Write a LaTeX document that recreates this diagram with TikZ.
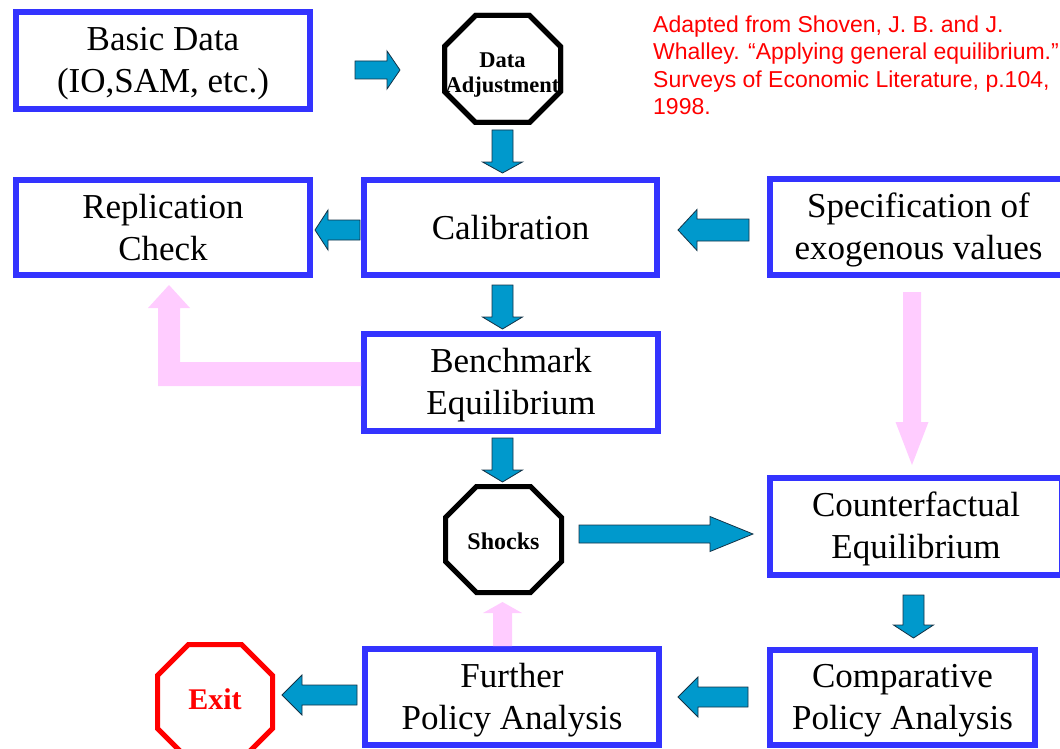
\documentclass[tikz,border=0pt]{standalone}
\usepackage{fontspec}
\setmainfont{Liberation Serif}
\newfontfamily\redsans{Liberation Sans}
\usetikzlibrary{calc}
\definecolor{boxblue}{RGB}{51,51,255}
\definecolor{tealfill}{RGB}{0,153,204}
\definecolor{tealedge}{RGB}{20,50,70}
\definecolor{pinkfill}{RGB}{255,204,255}
\definecolor{exitred}{RGB}{255,0,0}
\newcommand\ls{\rule[-6pt]{0pt}{36pt}}
% block arrow: start, tip, shaft half width, head half width, head length, style
\newcommand\blockarrow[6]{%
  \coordinate (ba-s) at (#1);
  \coordinate (ba-e) at (#2);
  \coordinate (ba-h) at ($(ba-e)!#5pt!(ba-s)$);
  \path[#6] ($(ba-s)!#3pt!90:(ba-e)$) -- ($(ba-h)!#3pt!-90:(ba-s)$) -- ($(ba-h)!#4pt!-90:(ba-s)$) -- (ba-e) -- ($(ba-h)!#4pt!90:(ba-s)$) -- ($(ba-h)!#3pt!90:(ba-s)$) -- ($(ba-s)!#3pt!-90:(ba-e)$) -- cycle;}
% octagon around a node: node, w, h, cut, style
\newcommand\octagonpath[5]{%
  \draw[#5] ($(#1)+({-#2/2+#4},{-#3/2})$) -- ($(#1)+({#2/2-#4},{-#3/2})$) -- ($(#1)+({#2/2},{-#3/2+#4})$) -- ($(#1)+({#2/2},{#3/2-#4})$) -- ($(#1)+({#2/2-#4},{#3/2})$) -- ($(#1)+({-#2/2+#4},{#3/2})$) -- ($(#1)+({-#2/2},{#3/2-#4})$) -- ($(#1)+({-#2/2},{-#3/2+#4})$) -- cycle;}
\begin{document}
\begin{tikzpicture}[x=1pt,y=-1pt,
  box/.style={draw=boxblue, line width=6pt, fill=white, inner sep=0pt, outer sep=3pt, align=center, font=\fontsize{35}{42}\selectfont},
  octnode/.style={inner sep=0pt, outer sep=2.5pt},
  octline/.style={draw=black, fill=white, line width=5pt},
  exitline/.style={draw=exitred, fill=white, line width=5pt},
  tealarrow/.style={fill=tealfill, draw=tealedge, line width=0.8pt},
  pinkarrow/.style={fill=pinkfill, draw=none}]
\useasboundingbox (0,0) rectangle (1060,749);
\clip (0,0) rectangle (1060,749);

% boxes
\node[box, minimum width=294pt, minimum height=97pt] (basic) at (163,60.5) {\ls Basic Data\\\ls (IO,SAM, etc.)};
\node[box, minimum width=294pt, minimum height=95pt] (repl) at (163,227.5) {\ls Replication\\\ls Check};
\node[box, minimum width=293pt, minimum height=95pt] (calib) at (510.5,227.5) {\ls Calibration};
\node[box, minimum width=297pt, minimum height=96pt] (spec) at (918.5,227) {\ls Specification of\\\ls exogenous values};
\node[box, minimum width=294pt, minimum height=97pt] (bench) at (511,382.5) {\ls Benchmark\\\ls Equilibrium};
\node[box, minimum width=292pt, minimum height=97pt] (counter) at (916,526.5) {\ls Counterfactual\\\ls Equilibrium};
\node[box, minimum width=265pt, minimum height=95pt] (comp) at (902.5,697.5) {\ls Comparative\\\ls Policy Analysis};
\node[box, minimum width=294pt, minimum height=96pt] (further) at (512,697) {\ls Further\\\ls Policy Analysis};

% octagons
\node[octnode, minimum width=116pt, minimum height=107pt] (dataoct) at (502.5,69) {};
\node[octnode, minimum width=116pt, minimum height=106pt] (shocksoct) at (503.5,539.5) {};
\node[octnode, minimum width=115pt, minimum height=115pt] (exitoct) at (215,702) {};
\octagonpath{dataoct}{116}{107}{31}{octline}
\octagonpath{shocksoct}{116}{106}{31}{octline}
\octagonpath{exitoct}{115}{115}{31}{exitline}
\node[inner sep=0pt, align=center, font=\bfseries\fontsize{22.5}{25}\selectfont] (datatext) at ($(dataoct)+(0,6)$) {Data\\Adjustment};
\octagonpath{dataoct}{116}{107}{31}{draw=black, line width=5pt}
\node[inner sep=0pt, font=\bfseries\fontsize{24}{28}\selectfont] (shockstext) at ($(shocksoct)+(0,1.5)$) {Shocks};
\node[inner sep=0pt, text=exitred, font=\bfseries\fontsize{30}{34}\selectfont] (exittext) at ($(exitoct)+(0,-3)$) {Exit};

% pink arrows
\coordinate (pa) at ($(bench.west)+(0,-8.5)$);
\coordinate (pb) at ($(repl.south)+(6,7)$);
\path[pinkarrow] ($(pa)+(0,-12)$) -- ($(pb|-pa)+(11,-12)$) -- ($(pb)+(11,23)$) -- ($(pb)+(21,23)$) -- (pb) -- ($(pb)+(-21,23)$) -- ($(pb)+(-11,23)$) -- ($(pb|-pa)+(-11,12)$) -- ($(pa)+(0,12)$) -- cycle;
\blockarrow{$(spec.south west)+(145,14)$}{$(counter.north west)+(145,-10)$}{9}{16.5}{43}{pinkarrow}
\blockarrow{$(further.north)+(-9.5,0)$}{$(shocksoct.south)+(-1,7)$}{9.5}{19.5}{11}{pinkarrow}

% teal arrows
\blockarrow{$(basic.east)+(42,9.5)$}{$(dataoct.west)+(-42,1)$}{9}{19}{13}{tealarrow}
\blockarrow{$(dataoct.south)+(0,5)$}{$(dataoct.south|-calib.north)+(0,-4)$}{10.5}{20}{11}{tealarrow}
\blockarrow{$(calib.west)+(-1,2.5)$}{$(repl.east)+(2,2.5)$}{10}{20}{13}{tealarrow}
\blockarrow{$(spec.west)+(-18,3)$}{$(calib.east)+(18,2.5)$}{11}{20.5}{19}{tealarrow}
\blockarrow{$(dataoct.south|-calib.south)+(0,7)$}{$(dataoct.south|-bench.north)+(0,-2)$}{10.5}{20}{12}{tealarrow}
\blockarrow{$(shocksoct.north|-bench.south)+(-1,4)$}{$(shocksoct.north)+(-1,-2)$}{10.5}{20}{12}{tealarrow}
\blockarrow{$(shocksoct.east)+(15,-5.5)$}{$(counter.west)+(-14,7.5)$}{9}{17.5}{43}{tealarrow}
\blockarrow{$(counter.south west)+(146.5,17)$}{$(comp.north west)+(146.5,-9)$}{10.5}{20}{13}{tealarrow}
\blockarrow{$(comp.west)+(-19,-0.5)$}{$(further.east)+(16,0)$}{10}{20}{20}{tealarrow}
\blockarrow{$(further.west)+(-5,-2)$}{$(exitoct.east)+(7,-7)$}{10}{20}{20}{tealarrow}

% source note
\node[anchor=north west, inner sep=0pt, align=left, text=exitred, font=\redsans\fontsize{23}{27.6}\selectfont] (note) at (653,12) {\rule{0pt}{20pt}Adapted from Shoven, J. B. and J.\\Whalley. “Applying general equilibrium.”\\Surveys of Economic Literature, p.104,\\1998.};
\end{tikzpicture}
\end{document}
